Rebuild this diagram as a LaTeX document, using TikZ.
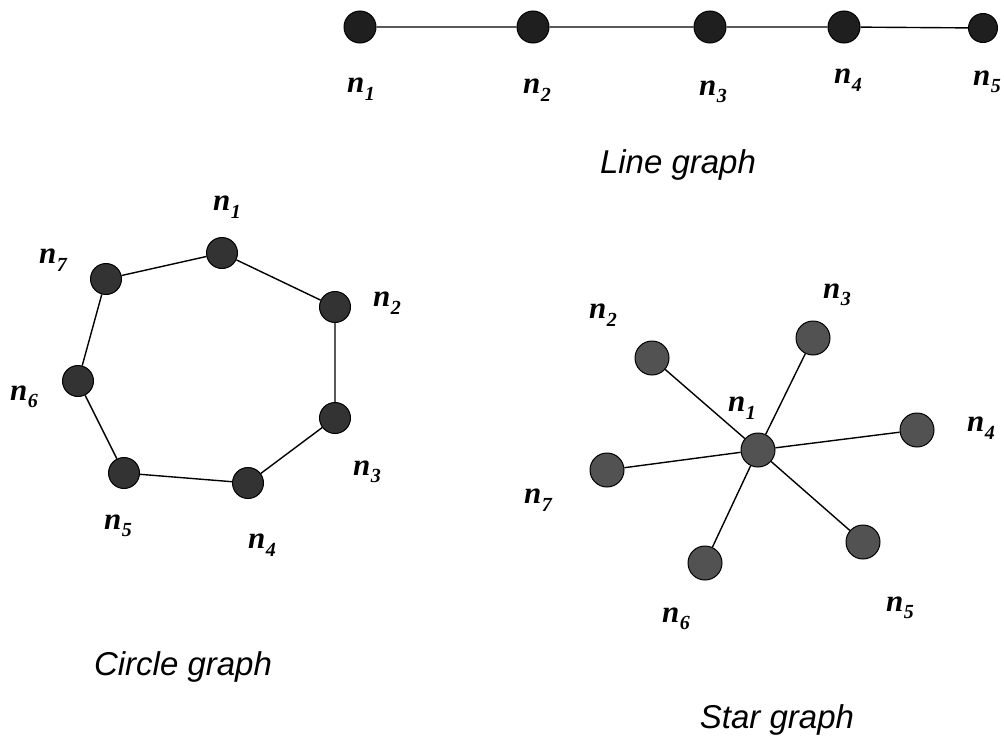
\documentclass[tikz,border=0pt]{standalone}
\usepackage{fontspec}
\newfontfamily\labfont{Liberation Serif}
\newfontfamily\titfont{Liberation Sans}
\newcommand{\nlab}[1]{{\labfont\bfseries\itshape\fontsize{31}{33}\selectfont n\kern0.5pt\raisebox{-7.5pt}{\fontsize{20}{20}\selectfont #1}}}
\begin{document}
\begin{tikzpicture}[x=1pt,y=-1pt,
  vtx/.style={circle,draw=black,line width=1pt,inner sep=0pt},
  lv/.style={vtx,fill=black!88,minimum size=32pt},
  cv/.style={vtx,fill=black!80,minimum size=31pt},
  sv/.style={vtx,fill=black!68,minimum size=34pt},
  edge/.style={line width=1.4pt,black},
  lbl/.style={inner sep=0pt,anchor=center},
  ttl/.style={inner sep=0pt,font=\titfont\itshape\fontsize{33}{36}\selectfont}]
\useasboundingbox (0,0) rectangle (1004,739);
% Line graph
\node[lv] (l1) at (360,27) {};
\node[lv] (l2) at (533,27) {};
\node[lv] (l3) at (710,27) {};
\node[lv] (l4) at (844,27) {};
\node[lv,minimum size=29pt] (l5) at (983,28) {};
\draw[edge] (l1) -- (l2) -- (l3) -- (l4) -- (l5);
\node[lbl] (ll1) at (361,89) {\nlab{1}};
\node[lbl] (ll2) at (537,90) {\nlab{2}};
\node[lbl] (ll3) at (713,92) {\nlab{3}};
\node[lbl] (ll4) at (848,80) {\nlab{4}};
\node[lbl] (ll5) at (987,82) {\nlab{5}};
\node[ttl] (lt) at (678,165) {Line graph};
% Circle graph
\node[cv] (c1) at (222,253) {};
\node[cv] (c2) at (335,307) {};
\node[cv] (c3) at (335,418) {};
\node[cv] (c4) at (248,483) {};
\node[cv] (c5) at (124,473) {};
\node[cv] (c6) at (78,381) {};
\node[cv] (c7) at (106,279) {};
\draw[edge] (c1) -- (c2) -- (c3) -- (c4) -- (c5) -- (c6) -- (c7) -- (c1);
\node[lbl] (cl1) at (227,207) {\nlab{1}};
\node[lbl] (cl2) at (387,303) {\nlab{2}};
\node[lbl] (cl3) at (367,472) {\nlab{3}};
\node[lbl] (cl4) at (262,545) {\nlab{4}};
\node[lbl] (cl5) at (118,526) {\nlab{5}};
\node[lbl] (cl6) at (24,397) {\nlab{6}};
\node[lbl] (cl7) at (53,260) {\nlab{7}};
\node[ttl] (ct) at (183,667) {Circle graph};
% Star graph
\node[sv] (s1) at (758,450) {};
\node[sv] (s2) at (652,358) {};
\node[sv] (s3) at (813,338) {};
\node[sv] (s4) at (917,430) {};
\node[sv] (s5) at (863,542) {};
\node[sv] (s6) at (705,563) {};
\node[sv] (s7) at (607,470) {};
\foreach \k in {2,...,7} \draw[edge] (s1) -- (s\k);
\node[lbl] (sl1) at (742,408) {\nlab{1}};
\node[lbl] (sl2) at (603,315) {\nlab{2}};
\node[lbl] (sl3) at (837,295) {\nlab{3}};
\node[lbl] (sl4) at (981,428) {\nlab{4}};
\node[lbl] (sl5) at (900,608) {\nlab{5}};
\node[lbl] (sl6) at (676,619) {\nlab{6}};
\node[lbl] (sl7) at (538,500) {\nlab{7}};
\node[ttl] (st) at (777,720) {Star graph};
\end{tikzpicture}
\end{document}
